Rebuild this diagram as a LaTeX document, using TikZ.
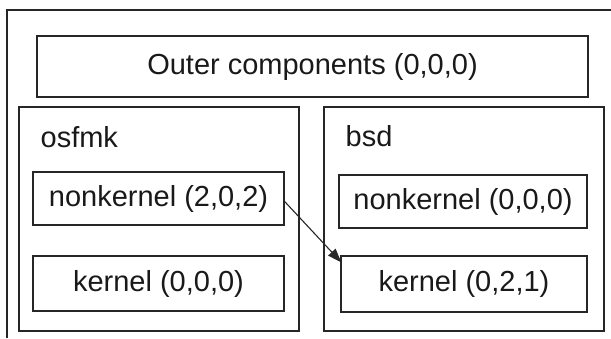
\documentclass[tikz,border=0pt]{standalone}
\usepackage{fontspec}
\setmainfont{Liberation Sans}
\usetikzlibrary{arrows.meta}
\begin{document}
\begin{tikzpicture}[x=1pt,y=-1pt,
  line width=1.3pt,
  box/.style={draw=black!85, text=black!90, inner sep=0pt, font=\fontsize{29}{33}\selectfont},
  lbl/.style={text=black!90, inner sep=0pt, anchor=west, font=\fontsize{29}{33}\selectfont}]
\useasboundingbox (0,0) rectangle (611,338);
\coordinate (fbl) at (7,338);
\coordinate (ftr) at (611,10);
\draw[black!85] (fbl) |- (ftr);
\node[box, minimum width=551pt, minimum height=61pt] (outer) at (312.5,66.5) {Outer components (0,0,0)};
\node[box, minimum width=280pt, minimum height=224pt] (osfmk) at (159,219) {};
\node[box, minimum width=280pt, minimum height=224pt] (bsd) at (464,219) {};
\node[lbl] (osfmklbl) at (40,137) {osfmk};
\node[lbl] (bsdlbl) at (345,136) {bsd};
\node[box, minimum width=251pt, minimum height=53pt] (nkL) at (158.5,198.5) {nonkernel (2,0,2)};
\node[box, minimum width=251pt, minimum height=55pt] (kL) at (158.5,283.5) {kernel (0,0,0)};
\node[box, minimum width=248pt, minimum height=53pt] (nkR) at (463,201.5) {nonkernel (0,0,0)};
\node[box, minimum width=246pt, minimum height=56pt] (kR) at (464,284) {kernel (0,2,1)};
\coordinate (tip) at ([xshift=1pt,yshift=-7pt]kR.north west);
\draw[black!85, line width=1.1pt, -{Triangle[length=14pt,width=10pt]}] ([yshift=-3pt]nkL.east) -- (tip);
\end{tikzpicture}
\end{document}
